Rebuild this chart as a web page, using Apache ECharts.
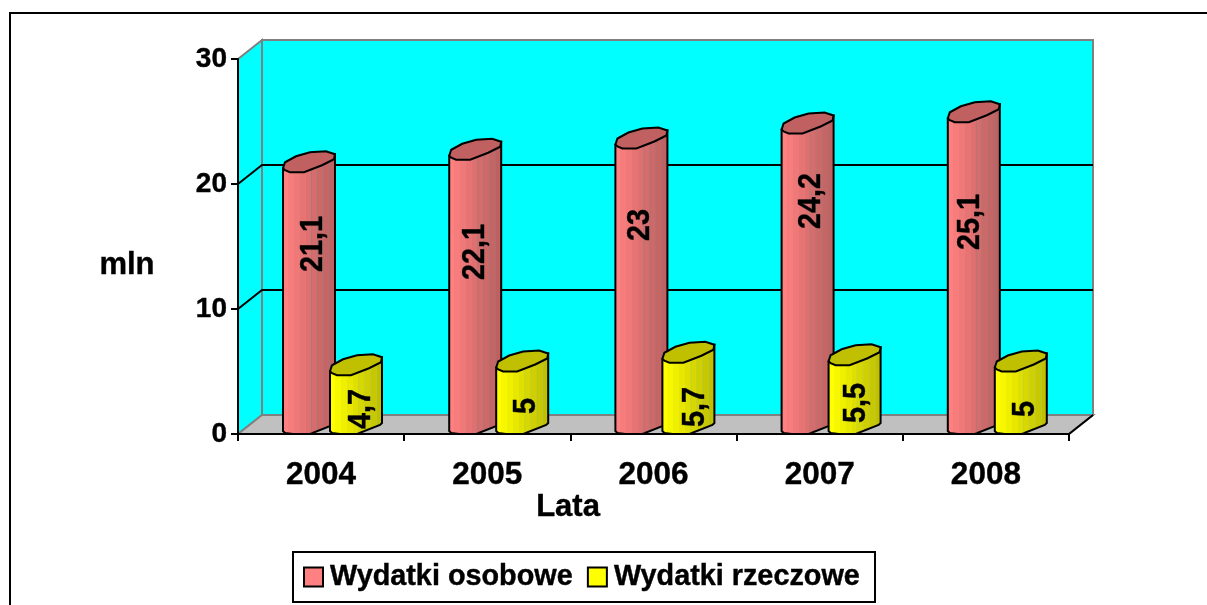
<!DOCTYPE html>
<html>
<head>
<meta charset="utf-8">
<title>Wydatki</title>
<script src="https://cdn.jsdelivr.net/npm/echarts@6/dist/echarts.min.js"></script>
<style>
html, body { margin: 0; padding: 0; background: #fff; overflow: hidden; }
#chart { width: 1207px; height: 605px; }
</style>
</head>
<body>
<div id="chart"></div>
<script>
var years = ['2004', '2005', '2006', '2007', '2008'];
var osobowe = [21.1, 22.1, 23, 24.2, 25.1];
var rzeczowe = [4.7, 5, 5.7, 5.5, 5];
var yTicks = [0, 10, 20, 30];

var FONT = '"Liberation Sans", Arial, sans-serif';
// wall depth of the fake 3d box
var DX = 24, DY = -19;
var BAR_W = 52;
// outline of a cylinder top, relative to its left edge and lowest point
var capShape = [[0, -4], [2, -10], [13, -16], [27, -20], [43, -21], [52, -18], [51, -13], [39, -7], [21, 0], [7, 0], [2, -2]];
var baseShape = [[52, -11], [50, -9], [27, 0], [10, 0], [2, -1], [0, -3]];
var stripes = [28, 34, 40, 46];
// hand placed labels: x from bar left, y up from the floor line
var pinkLabels = [[30, 190], [26, 182], [25, 209], [30, 233], [23, 212]];
var yellowLabels = [[31, 25], [30, 28], [33, 27], [28, 31], [31, 25]];

function bandStops(c0, c1) {
    var stops = [];
    var n = 9;
    var a = echarts.color.parse(c0), b = echarts.color.parse(c1);
    for (var i = 0; i < n; i++) {
        var t = i / (n - 1);
        var col = 'rgb(' + Math.round(a[0] + (b[0] - a[0]) * t) + ',' + Math.round(a[1] + (b[1] - a[1]) * t) + ',' + Math.round(a[2] + (b[2] - a[2]) * t) + ')';
        stops.push({ offset: i / n, color: col });
        stops.push({ offset: (i + 1) / n, color: col });
    }
    return stops;
}

function wallItem(params, api) {
    var g = params.coordSys;
    var x0 = g.x, x1 = g.x + g.width;
    var y0 = api.coord([0, 0])[1], yTop = api.coord([0, 30])[1];
    var kids = [
        { type: 'polygon', shape: { points: [[x0 + DX, yTop + DY], [x1 + DX, yTop + DY], [x1 + DX, y0 + DY], [x0 + DX, y0 + DY]] }, style: { fill: '#00ffff', stroke: '#808080', lineWidth: 2 } },
        { type: 'polygon', shape: { points: [[x0, yTop], [x0 + DX, yTop + DY], [x0 + DX, y0 + DY], [x0, y0]] }, style: { fill: '#00ffff', stroke: '#808080', lineWidth: 2 } },
        { type: 'polygon', shape: { points: [[x0, y0], [x0 + DX, y0 + DY], [x1 + DX, y0 + DY], [x1, y0]] }, style: { fill: '#c0c0c0', stroke: '#808080', lineWidth: 2 } },
        { type: 'line', shape: { x1: x1, y1: y0, x2: x1 + DX, y2: y0 + DY }, style: { stroke: '#000', lineWidth: 2 } }
    ];
    yTicks.slice(1, 3).forEach(function (v) {
        var y = api.coord([0, v])[1];
        kids.push({ type: 'polyline', shape: { points: [[x0, y], [x0 + DX, y + DY], [x1 + DX, y + DY]] }, style: { fill: 'none', stroke: '#000', lineWidth: 2 } });
    });
    return { type: 'group', children: kids };
}

function cylinderItem(offset, c0, c1, capColor, stripeColor, capDrop, labels) {
    return function (params, api) {
        var i = api.value(0);
        var p = api.coord([i, api.value(1)]);
        var floor = api.coord([i, 0])[1];
        var left = p[0] - api.size([1, 0])[0] / 2 + offset;
        var top = p[1] + capDrop;
        var body = [[left, top - 4], [left + BAR_W, top - 18]];
        baseShape.forEach(function (s) { body.push([left + s[0], floor + s[1]]); });
        var cap = capShape.map(function (s) { return [left + s[0], top + s[1]]; });
        var lab = labels[params.dataIndex];
        var kids = [
            { type: 'polygon', shape: { points: body }, style: { fill: { type: 'linear', x: 0, y: 0, x2: 1, y2: 0, colorStops: bandStops(c0, c1) }, stroke: '#000', lineWidth: 2 } }
        ];
        stripes.forEach(function (dx) {
            var yEnd = floor - 11 * (dx - 27) / 25 - 1;
            kids.push({ type: 'line', shape: { x1: left + dx + 0.5, y1: top - 10, x2: left + dx + 0.5, y2: yEnd }, style: { stroke: stripeColor, lineWidth: 1 } });
        });
        kids.push({ type: 'polygon', shape: { points: cap }, style: { fill: capColor, stroke: '#000', lineWidth: 2 } });
        kids.push({
            type: 'text', x: left + lab[0], y: floor - lab[1], rotation: Math.PI / 2, scaleX: 0.93,
            style: { text: String(api.value(1)).replace('.', ','), fill: '#000', font: 'bold 31px ' + FONT, align: 'center', verticalAlign: 'middle', stroke: '#000', lineWidth: 0.4 }
        });
        return { type: 'group', children: kids };
    };
}

var chart = echarts.init(document.getElementById('chart'), null, { renderer: 'canvas' });
chart.setOption({
    animation: false,
    backgroundColor: '#fff',
    grid: { left: 238, top: 59, width: 831, height: 375, containLabel: false },
    xAxis: {
        type: 'category',
        data: years,
        z: 5,
        axisLine: { lineStyle: { color: '#000', width: 2 } },
        axisTick: { show: true, length: 7, lineStyle: { color: '#000', width: 2 } },
        axisLabel: { color: '#000', fontFamily: FONT, fontWeight: 'bold', fontSize: 31.5, margin: 25, textBorderColor: '#000', textBorderWidth: 0.4 }
    },
    yAxis: {
        type: 'value',
        min: 0,
        max: 30,
        interval: 10,
        z: 5,
        axisLine: { show: true, lineStyle: { color: '#000', width: 2 } },
        axisTick: { show: true, length: 7, lineStyle: { color: '#000', width: 2 } },
        axisLabel: { color: '#000', fontFamily: FONT, fontWeight: 'bold', fontSize: 28, margin: 11, padding: [3, 0, 0, 0], textBorderColor: '#000', textBorderWidth: 0.4 },
        splitLine: { show: false }
    },
    legend: {
        left: 293,
        top: 552,
        orient: 'horizontal',
        selectedMode: false,
        padding: [8, 15, 8, 10],
        itemGap: 14,
        itemWidth: 19,
        itemHeight: 19,
        borderColor: '#000',
        borderWidth: 2,
        backgroundColor: '#fff',
        textStyle: { color: '#000', fontFamily: FONT, fontWeight: 'bold', fontSize: 28.8, lineHeight: 34, padding: [0, 0, 0, 2], textBorderColor: '#000', textBorderWidth: 0.4 },
        data: [
            { name: 'Wydatki osobowe', icon: 'rect', itemStyle: { color: '#ff8080', borderColor: '#000', borderWidth: 2 } },
            { name: 'Wydatki rzeczowe', icon: 'rect', itemStyle: { color: '#ffff00', borderColor: '#000', borderWidth: 2 } }
        ]
    },
    graphic: [
        { type: 'polyline', z: 10, shape: { points: [[10, 605], [10, 13], [1207, 13]] }, style: { fill: 'none', stroke: '#000', lineWidth: 2 } },
        { type: 'text', x: 127, y: 265, z: 10, style: { text: 'mln', fill: '#000', font: 'bold 31px ' + FONT, align: 'center', verticalAlign: 'middle', stroke: '#000', lineWidth: 0.4 } },
        { type: 'text', x: 568, y: 507, z: 10, style: { text: 'Lata', fill: '#000', font: 'bold 31px ' + FONT, align: 'center', verticalAlign: 'middle', stroke: '#000', lineWidth: 0.4 } }
    ],
    series: [
        { type: 'custom', name: 'walls', z: 1, data: [[0, 0]], encode: { x: 0, y: 1 }, renderItem: wallItem, silent: true },
        {
            type: 'custom', name: 'Wydatki osobowe', z: 2, itemStyle: { color: '#ff8080' },
            data: osobowe.map(function (v, i) { return [i, v]; }), encode: { x: 0, y: 1 },
            renderItem: cylinderItem(45, '#ff8080', '#c06060', '#c06060', 'rgba(128,128,128,0.6)', 2, pinkLabels)
        },
        {
            type: 'custom', name: 'Wydatki rzeczowe', z: 3, itemStyle: { color: '#ffff00' },
            data: rzeczowe.map(function (v, i) { return [i, v]; }), encode: { x: 0, y: 1 },
            renderItem: cylinderItem(92, '#ffff00', '#c0c000', '#c0c000', 'rgba(170,200,90,0.5)', 0, yellowLabels)
        }
    ]
});
</script>
</body>
</html>
